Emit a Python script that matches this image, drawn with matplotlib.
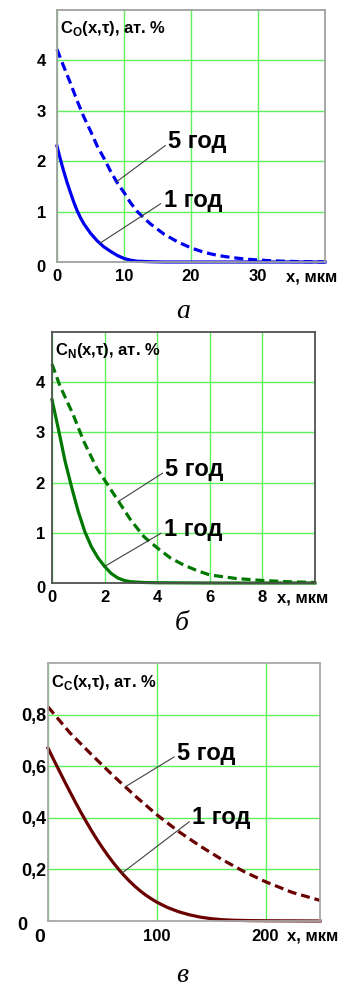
import numpy as np
import matplotlib
matplotlib.use('Agg')
import matplotlib.pyplot as plt
from matplotlib.transforms import ScaledTranslation

plt.rcParams['font.family'] = ['Liberation Sans', 'DejaVu Sans']
plt.rcParams['font.weight'] = 'bold'
plt.rcParams['mathtext.fontset'] = 'custom'
plt.rcParams['mathtext.rm'] = 'Liberation Sans:bold'
plt.rcParams['lines.scale_dashes'] = False

# а) кислород, x в мкм
o_x_1 = [0, 0.5, 1, 1.5, 2, 2.5, 3, 3.5, 4, 5, 6, 7, 8, 9, 10, 11, 12, 14, 16, 40]
o_c_1 = [2.3, 2.04, 1.8, 1.58, 1.38, 1.19, 1.02, 0.88, 0.76, 0.57, 0.42, 0.3, 0.21, 0.13,
         0.07, 0.035, 0.015, 0.005, 0, 0]
o_x_5 = [0, 1, 2, 3, 4, 5, 6, 7, 8, 9, 10, 11, 12, 13, 14, 16, 18, 20, 22, 24, 26, 28, 30, 32, 34, 36, 40]
o_c_5 = [4.22, 3.88, 3.55, 3.2, 2.88, 2.6, 2.3, 2.06, 1.8, 1.57, 1.38, 1.17, 1.0, 0.87, 0.75,
         0.55, 0.4, 0.28, 0.19, 0.13, 0.09, 0.06, 0.04, 0.025, 0.015, 0.008, 0]

# б) азот
n_x_1 = [0, 0.25, 0.5, 0.75, 1, 1.25, 1.5, 1.75, 2, 2.25, 2.5, 2.75, 3, 3.5, 4, 6, 10]
n_c_1 = [3.65, 3.05, 2.42, 1.9, 1.42, 1.02, 0.72, 0.5, 0.33, 0.19, 0.1, 0.05, 0.025, 0.01, 0.005, 0, 0]
n_x_5 = [0, 0.3, 0.8, 1.2, 1.7, 2, 2.5, 3, 3.5, 4, 4.5, 5, 5.5, 6, 7, 8, 9, 10]
n_c_5 = [4.36, 3.93, 3.36, 2.83, 2.29, 2.05, 1.65, 1.25, 0.92, 0.7, 0.5, 0.36, 0.25, 0.16, 0.09, 0.05, 0.025, 0.01]

# в) углерод
c_x_1 = [0, 5, 10, 15, 20, 25, 30, 35, 40, 45, 50, 55, 60, 65, 70, 75, 80, 85, 90, 95, 100,
         110, 120, 130, 140, 150, 160, 170, 185, 200, 250]
c_c_1 = [0.67, 0.627, 0.585, 0.543, 0.502, 0.462, 0.423, 0.386, 0.35, 0.316, 0.284, 0.254,
         0.226, 0.2, 0.176, 0.154, 0.134, 0.116, 0.1, 0.086, 0.073, 0.052, 0.036, 0.024,
         0.015, 0.009, 0.005, 0.003, 0.0015, 0.001, 0]
c_x_5 = [0, 20, 40, 60, 80, 100, 120, 140, 160, 180, 200, 225, 250]
c_c_5 = [0.83, 0.73, 0.645, 0.563, 0.485, 0.412, 0.347, 0.29, 0.238, 0.192, 0.152, 0.11, 0.08]

GRID = '#5ef05e'


def label_curve(ax, x, c, xp, text_xy, text):
    yp = np.interp(xp, x, c)
    ax.annotate(text, xy=(xp, yp), xytext=text_xy, fontsize=17, fontweight='bold',
                ha='left', va='center',
                arrowprops=dict(arrowstyle='-', color='#404040', lw=0.8,
                                shrinkA=0, shrinkB=0, relpos=(0, 0.42)))


def shift(fig, label, dx, dy):
    label.set_transform(label.get_transform() +
                        ScaledTranslation(dx / 100, dy / 100, fig.dpi_scale_trans))


def draw_panel(fig, rect, x1, c1, x5, c5, color, xlim, ylim, xticks, yticks, yticklabels,
               ylabel, pos1, pos5, spine, xpad, ypad, fs=12, xl_pos=0.855):
    ax = fig.add_axes(rect)
    ax.plot(x5, c5, color=color, lw=2.3, dashes=(6.5, 3.5), clip_on=False)
    ax.plot(x1, c1, color=color, lw=2.3, clip_on=False)
    ax.set_xlim(xlim)
    ax.set_ylim(ylim)
    ax.set_xticks(xticks)
    ax.set_yticks(yticks)
    ax.set_yticklabels(yticklabels)
    ax.tick_params(length=0, labelsize=fs)
    ax.tick_params(axis='x', pad=xpad)
    ax.tick_params(axis='y', pad=ypad)
    ax.set_axisbelow(True)
    ax.grid(True, color=GRID, lw=1.0)
    for s in ax.spines.values():
        s.set_color(spine)
        s.set_linewidth(1.3)
    ax.text(0.012, 0.925, ylabel, transform=ax.transAxes, fontsize=12, va='center', ha='left')
    ax.annotate('x, мкм', xy=(xl_pos, 0), xycoords='axes fraction', xytext=(0, -11),
                textcoords='offset points', fontsize=fs, va='center', ha='left',
                annotation_clip=False)
    label_curve(ax, x5, c5, pos5[0], pos5[1], '5 год')
    label_curve(ax, x1, c1, pos1[0], pos1[1], '1 год')
    return ax


def main():
    fig = plt.figure(figsize=(3.44, 9.91), dpi=100)

    ax = draw_panel(fig, [57 / 344, 1 - 262 / 991, 268 / 344, 252 / 991],
                    o_x_1, o_c_1, o_x_5, o_c_5, '#0000f0',
                    (0, 40), (0, 5), [0, 10, 20, 30], [0, 1, 2, 3, 4],
                    ['0', '1', '2', '3', '4'], r'C$_\mathrm{O}$(x,τ), ат. %',
                    (6.4, (15.9, 1.23)), (8.9, (16.6, 2.39)), '#a0a0a0', 5, 8)
    shift(fig, ax.get_yticklabels()[0], 0, -4)

    ax = draw_panel(fig, [52 / 344, 1 - 583 / 991, 263 / 344, 251 / 991],
                    n_x_1, n_c_1, n_x_5, n_c_5, '#007800',
                    (0, 10), (0, 5), [0, 2, 4, 6, 8], [0, 1, 2, 3, 4],
                    ['0', '1', '2', '3', '4'], r'C$_\mathrm{N}$(x,τ), ат. %',
                    (2.0, (4.25, 1.06)), (2.53, (4.31, 2.26)), '#505050', 5, 5)
    shift(fig, ax.get_yticklabels()[0], 0, -4)

    ax = draw_panel(fig, [48 / 344, 1 - 921 / 991, 272 / 344, 258 / 991],
                    c_x_1, c_c_1, c_x_5, c_c_5, '#6a0000',
                    (0, 250), (0, 1.0), [0, 100, 200], [0, 0.2, 0.4, 0.6, 0.8],
                    ['0', '0,2', '0,4', '0,6', '0,8'], r'C$_\mathrm{C}$(x,τ), ат. %',
                    (68, (132.4, 0.40)), (71, (118.6, 0.65)), '#a8a8a8', 6, 1, xl_pos=0.877)
    for lbl in ax.get_yticklabels():
        lbl.set_fontsize(13)
    shift(fig, ax.get_yticklabels()[0], -19, -2)
    x0 = ax.get_xticklabels()[0]
    x0.set_fontsize(14)
    shift(fig, x0, -8, 0)

    for cx, cy, txt in [(183, 312, 'а'), (182, 623, 'б'), (182, 976, 'в')]:
        fig.text(cx / 344, 1 - cy / 991, txt, family='Liberation Serif', style='italic',
                 weight='normal', fontsize=20, ha='center', va='center')

    fig.savefig('out.png', dpi=100, facecolor='white')


if __name__ == '__main__':
    main()
